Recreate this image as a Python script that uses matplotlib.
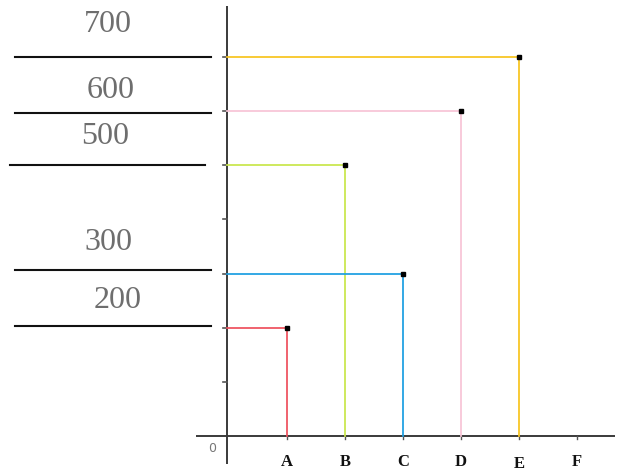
import matplotlib
matplotlib.use("Agg")
import matplotlib.pyplot as plt

# ---- data ----
categories = ['A', 'B', 'C', 'D', 'E', 'F']
values = [200, 500, 300, 600, 700]          # A..E (F has no value)
series_colors = ['#ee4f5c', '#c8e64a', '#1a9ee2', '#f8c4d6', '#f8c41c']
y_ticks = [100, 200, 300, 400, 500, 600, 700]
side_labels = ['700', '600', '500', '300', '200']

# ---- figure geometry (pixel -> data mapping) ----
W, H = 617, 471
X0, XS = 229.0, 58.0        # pixel x of x=0, pixels per category
Y0, YS = 436.0, 0.5414      # pixel y (from top) of v=0, pixels per unit

def px_x(p):
    return (p - X0) / XS

def px_y(p):
    return (Y0 - p) / YS

fig = plt.figure(figsize=(W / 100, H / 100), dpi=100)
ax = fig.add_axes([0, 0, 1, 1])
ax.set_xlim(px_x(0), px_x(W))
ax.set_ylim(px_y(H), px_y(0))
ax.axis('off')

axis_col = '#3a3a3a'
ax_x = px_x(227)
# axes lines
ax.plot([ax_x, ax_x], [px_y(464), px_y(6)], color=axis_col, lw=1.4, solid_capstyle='butt')
ax.plot([px_x(196), px_x(615)], [0, 0], color=axis_col, lw=1.4, solid_capstyle='butt')

# y ticks
for t in y_ticks:
    ax.plot([px_x(223), ax_x], [t, t], color='#555555', lw=1.2)
# x ticks
for i in range(1, len(categories) + 1):
    ax.plot([i, i], [0, px_y(439)], color='#555555', lw=1.0)

# series: horizontal + vertical lines and points
for i, (v, c) in enumerate(zip(values, series_colors), start=1):
    ax.plot([ax_x, i], [v, v], color=c, lw=1.25, zorder=2)
    ax.plot([i, i], [0, v], color=c, lw=1.25, zorder=2)
for i, v in enumerate(values, start=1):
    ax.plot(i, v, marker='s', ms=2.8, color='black', zorder=4)

# category labels
label_y = [462, 462, 462, 462, 463.5, 462]
for i, (cat, ly) in enumerate(zip(categories, label_y), start=1):
    ax.text(i, px_y(ly), cat, ha='center', va='center', fontsize=12,
            fontweight='bold', family='Liberation Serif', color='#111111')

ax.text(px_x(212), px_y(448), '0', ha='center', va='center', fontsize=9,
        color='#777777', family='DejaVu Sans')

# side labels with lines
text_pos = [(108, 25), (111, 91), (105, 137), (108, 243), (118, 301)]
line_pos = [(15, 211, 57), (15, 211, 113), (10, 205, 165), (15, 211, 270), (15, 211, 326)]
for lab, (tx, ty), (lx0, lx1, ly) in zip(side_labels, text_pos, line_pos):
    ax.text(px_x(tx), px_y(ty), lab, ha='center', va='center', fontsize=23,
            family='Liberation Serif', color='#6e6e6e')
    ax.plot([px_x(lx0), px_x(lx1)], [px_y(ly), px_y(ly)], color='#111111', lw=1.5)

fig.savefig('out.png', dpi=100)
